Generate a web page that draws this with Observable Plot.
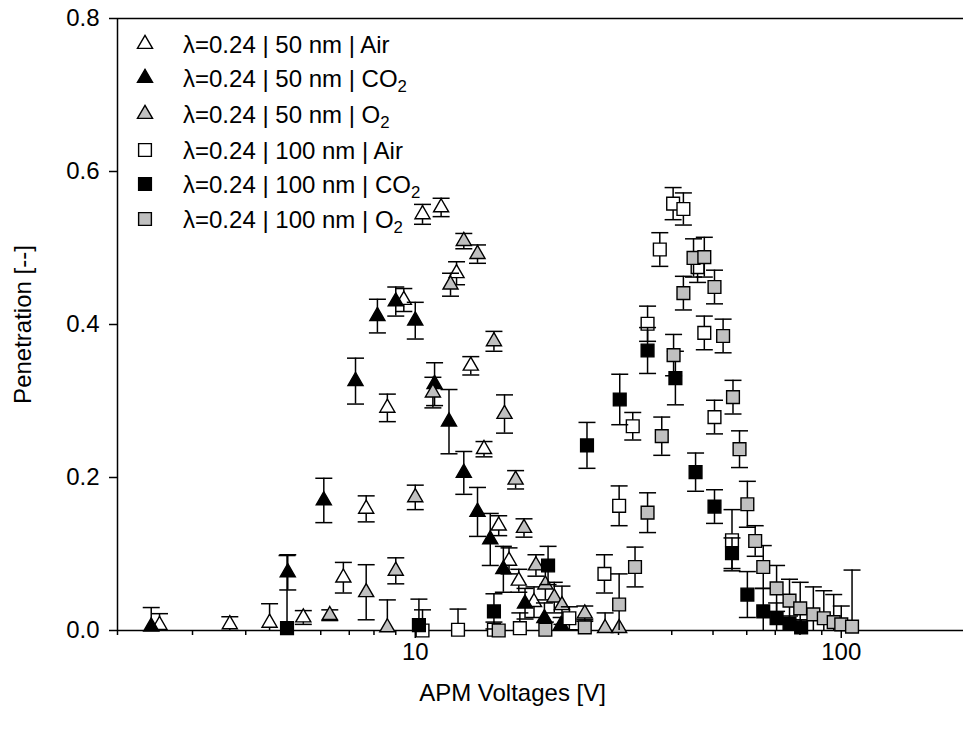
<!DOCTYPE html>
<html>
<head>
<meta charset="utf-8">
<script src="https://cdn.jsdelivr.net/npm/d3@7"></script>
<script src="https://cdn.jsdelivr.net/npm/@observablehq/plot@0.6"></script>
<style>
  body { margin: 0; background: #fff; font-family: "Liberation Sans", Arial, sans-serif; }
  #wrap { position: relative; width: 963px; height: 732px; }
  #legend { position: absolute; left: 0; top: 0; font-size: 24px; color: #000; }
  .row { position: absolute; left: 0; height: 24px; line-height: 24px; white-space: nowrap; }
  .row svg { position: absolute; left: 135px; top: 2px; overflow: visible; }
  .row span { position: absolute; left: 183px; top: 0; }
  sub { font-size: 0.7em; vertical-align: -0.3em; line-height: 0; }
</style>
</head>
<body>
<div id="wrap"><div id="chart"></div><div id="legend"></div></div>
<script>
// ---- Data (APM voltage [V], penetration [-], error) ----
// 50 nm | Air (open triangles)
const air50V = [2.51, 3.67, 4.55, 5.46, 6.78, 7.67, 8.6, 9.4, 10.4, 11.5, 12.5, 13.5, 14.5, 15.7, 16.6, 17.5, 19.0];
const air50P = [0.007, 0.008, 0.010, 0.017, 0.069, 0.159, 0.291, 0.432, 0.544, 0.553, 0.467, 0.346, 0.237, 0.137, 0.091, 0.065, 0.037];
const air50E = [0.015, 0.010, 0.025, 0.009, 0.020, 0.017, 0.018, 0.015, 0.013, 0.012, 0.015, 0.012, 0.010, 0.013, 0.017, 0.015, 0.020];
// 50 nm | CO2 (black triangles)
const co250V = [2.4, 5.02, 6.1, 7.24, 8.15, 9.0, 10.0, 11.1, 12.0, 13.0, 14.0, 15.0, 16.1, 18.1, 20.1, 22.0];
const co250P = [0.005, 0.076, 0.170, 0.326, 0.411, 0.430, 0.405, 0.322, 0.273, 0.206, 0.155, 0.119, 0.080, 0.035, 0.016, 0.007];
const co250E = [0.025, 0.023, 0.029, 0.030, 0.022, 0.019, 0.024, 0.028, 0.042, 0.028, 0.032, 0.034, 0.030, 0.020, 0.020, 0.010];
// 50 nm | O2 (grey triangles)
const o250V = [6.3, 7.67, 8.6, 9.0, 10.0, 11.0, 12.1, 13.0, 14.0, 15.3, 16.2, 17.2, 18.0, 19.2, 20.2, 21.2, 22.1, 25.0, 27.9, 30.1];
const o250P = [0.020, 0.050, 0.004, 0.078, 0.174, 0.311, 0.452, 0.509, 0.492, 0.378, 0.283, 0.197, 0.134, 0.085, 0.060, 0.043, 0.033, 0.022, 0.003, 0.003];
const o250E = [0.007, 0.036, 0.036, 0.017, 0.016, 0.020, 0.015, 0.010, 0.012, 0.013, 0.025, 0.012, 0.012, 0.014, 0.020, 0.020, 0.025, 0.010, 0.020, 0.000];
// 100 nm | Air (open squares)
const air100V = [10.4, 12.6, 15.3, 17.6, 23.0, 27.8, 30.1, 32.4, 35.1, 37.5, 40.3, 42.6, 46.0, 47.7, 50.4, 55.4];
const air100P = [0.000, 0.001, 0.001, 0.003, 0.016, 0.074, 0.163, 0.267, 0.401, 0.498, 0.558, 0.551, 0.475, 0.389, 0.279, 0.118];
const air100E = [0.027, 0.027, 0.010, 0.020, 0.015, 0.025, 0.026, 0.018, 0.023, 0.022, 0.021, 0.021, 0.020, 0.022, 0.022, 0.040];
// 100 nm | CO2 (black squares)
const co2100V = [5.0, 10.2, 15.3, 20.5, 25.3, 30.2, 35.1, 40.8, 45.5, 50.4, 55.4, 60.2, 65.6, 70.5, 75.6, 80.5];
const co2100P = [0.003, 0.007, 0.025, 0.085, 0.242, 0.302, 0.366, 0.330, 0.207, 0.162, 0.101, 0.047, 0.025, 0.016, 0.009, 0.004];
const co2100E = [0.095, 0.034, 0.023, 0.025, 0.030, 0.033, 0.030, 0.035, 0.025, 0.022, 0.020, 0.030, 0.030, 0.020, 0.010, 0.010];
// 100 nm | O2 (grey squares)
const o2100V = [15.7, 20.2, 25.0, 30.1, 32.8, 35.1, 37.9, 40.4, 42.6, 45.0, 47.7, 50.4, 52.8, 55.7, 57.7, 60.2, 62.8, 65.6, 70.5, 75.6, 80.1, 86, 91, 96, 100, 106];
const o2100P = [0.000, 0.001, 0.004, 0.034, 0.083, 0.154, 0.254, 0.360, 0.441, 0.487, 0.488, 0.449, 0.385, 0.305, 0.237, 0.165, 0.117, 0.083, 0.055, 0.039, 0.029, 0.021, 0.016, 0.011, 0.008, 0.005];
const o2100E = [0.000, 0.010, 0.010, 0.040, 0.026, 0.026, 0.025, 0.027, 0.022, 0.025, 0.026, 0.022, 0.022, 0.022, 0.024, 0.030, 0.020, 0.028, 0.030, 0.028, 0.034, 0.036, 0.036, 0.036, 0.024, 0.074];

// ---- Axis ticks ----
const yTicks = [0, 0.2, 0.4, 0.6, 0.8];
const xMajor = [10, 100];
const xMinor = [2, 3, 4, 5, 6, 7, 8, 9, 20, 30, 40, 50, 60, 70, 80, 90];
const xLabel = "APM Voltages [V]";
const yLabel = "Penetration [--]";

const series = [
  {label: "λ=0.24 | 50 nm | Air", V: air50V, P: air50P, E: air50E, symbol: "triangle", fill: "white"},
  {label: "λ=0.24 | 50 nm | CO<sub>2</sub>", V: co250V, P: co250P, E: co250E, symbol: "triangle", fill: "black"},
  {label: "λ=0.24 | 50 nm | O<sub>2</sub>", V: o250V, P: o250P, E: o250E, symbol: "triangle", fill: "#c0c0c0"},
  {label: "λ=0.24 | 100 nm | Air", V: air100V, P: air100P, E: air100E, symbol: "square", fill: "white"},
  {label: "λ=0.24 | 100 nm | CO<sub>2</sub>", V: co2100V, P: co2100P, E: co2100E, symbol: "square", fill: "black"},
  {label: "λ=0.24 | 100 nm | O<sub>2</sub>", V: o2100V, P: o2100P, E: o2100E, symbol: "square", fill: "#c0c0c0"}
];

const R = {triangle: 5.6, square: 7.2};
const cap = {draw(ctx) { ctx.moveTo(-8.5, 0); ctx.lineTo(8.5, 0); }};

function seriesMarks(s) {
  const rows = s.V.map((v, i) => ({v, p: s.P[i], e: s.E[i]}));
  const withErr = rows.filter(d => d.e > 0);
  return [
    Plot.ruleX(withErr, {x: "v", y1: d => Math.max(0, d.p - d.e), y2: d => d.p + d.e, stroke: "black", strokeWidth: 1.5}),
    Plot.dot(withErr, {x: "v", y: d => d.p + d.e, symbol: cap, fill: "none", stroke: "black", strokeWidth: 1.5}),
    Plot.dot(withErr.filter(d => d.p - d.e > 0), {x: "v", y: d => d.p - d.e, symbol: cap, fill: "none", stroke: "black", strokeWidth: 1.5}),
    Plot.dot(rows, {x: "v", y: "p", symbol: s.symbol, r: R[s.symbol], fill: s.fill, stroke: "black", strokeWidth: 1.4})
  ];
}

const chart = Plot.plot({
  width: 963,
  height: 732,
  marginLeft: 117,
  marginRight: 0,
  marginTop: 18,
  marginBottom: 102,
  style: {fontFamily: "'Liberation Sans', Arial, sans-serif", fontSize: "24px", background: "white", color: "black"},
  x: {type: "log", domain: [2, 200], range: [117, 969]},
  y: {domain: [0, 0.8]},
  marks: [
    Plot.axisY({ticks: yTicks, tickSize: 8, tickPadding: 10, tickFormat: d3.format(".1f"), label: yLabel, labelAnchor: "center", labelArrow: "none", labelOffset: 104, strokeWidth: 1.5}),
    Plot.axisX({ticks: xMajor, tickSize: 8, tickPadding: 4, tickFormat: d => String(d), label: null, strokeWidth: 1.5}),
    Plot.axisX({ticks: xMinor, tickSize: 5, tickFormat: () => "", label: null, strokeWidth: 1.5}),
    Plot.text([xLabel], {frameAnchor: "bottom", dx: -28, dy: 70, fontSize: 24, lineAnchor: "bottom"}),
    Plot.ruleY([0], {strokeWidth: 1.5}),
    Plot.ruleY([0.8], {strokeWidth: 1.5}),
    Plot.ruleX([2], {strokeWidth: 1.5}),
    ...series.flatMap(seriesMarks)
  ]
});
document.getElementById("chart").appendChild(chart);

// ---- Legend (inside the plot area, top-left) ----
const rowCenters = [44, 78, 114, 150, 184, 219];
const legend = document.getElementById("legend");
series.forEach((s, i) => {
  const row = document.createElement("div");
  row.className = "row";
  row.style.top = (rowCenters[i] - 11) + "px";
  const size = Math.PI * R[s.symbol] * R[s.symbol];
  const sym = s.symbol === "triangle" ? d3.symbolTriangle : d3.symbolSquare;
  const path = d3.symbol(sym, size)();
  row.innerHTML = `<svg width="20" height="20"><path transform="translate(10,9)" d="${path}" fill="${s.fill}" stroke="black" stroke-width="1.4"></path></svg><span>${s.label}</span>`;
  legend.appendChild(row);
});
</script>
</body>
</html>
